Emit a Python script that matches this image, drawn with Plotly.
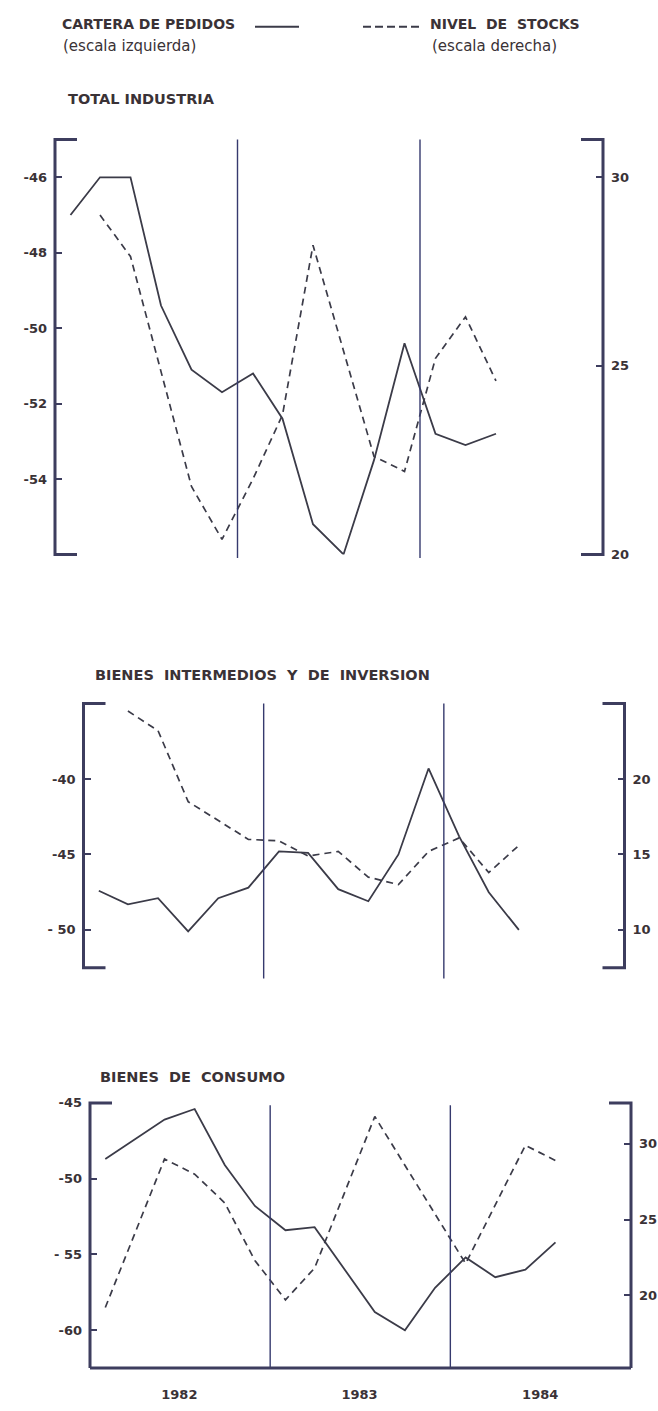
import plotly.graph_objects as go

W, H = 658, 1411

# ---------------- data (bimonthly survey points) ----------------
periods = ["1982-02-01", "1982-04-01", "1982-06-01", "1982-08-01", "1982-10-01", "1982-12-01",
           "1983-02-01", "1983-04-01", "1983-06-01", "1983-08-01", "1983-10-01", "1983-12-01",
           "1984-02-01", "1984-04-01", "1984-06-01", "1984-08-01"]
year_breaks = ["1983-01-01", "1984-01-01"]
year_ticks = ["1982-07-01", "1983-07-01", "1984-07-01"]
year_labels = ["1982", "1983", "1984"]

# TOTAL INDUSTRIA
total_pedidos = [-47.0, -46.0, -46.0, -49.4, -51.1, -51.7, -51.2, -52.4, -55.2, -56.0,
                 -53.5, -50.4, -52.8, -53.1, -52.8]
total_stocks = [None, 29.0, 27.9, None, 21.8, 20.4, 22.0, 23.7, 28.2, None,
                22.6, 22.2, 25.2, 26.3, 24.6]

# BIENES INTERMEDIOS Y DE INVERSION
inter_pedidos = [-47.4, -48.3, -47.9, -50.1, -47.9, -47.2, -44.8, -44.9, -47.3, -48.1,
                 -45.0, -39.3, -43.8, -47.5, -50.0]
inter_stocks = [None, 24.5, 23.2, 18.5, None, 16.0, 15.9, 14.9, 15.2, 13.5,
                13.0, 15.2, 16.1, 13.8, 15.6]

# BIENES DE CONSUMO
cons_pedidos = [-48.7, None, -46.1, -45.4, -49.1, -51.8, -53.4, -53.2, None, -58.8,
                -60.0, -57.2, -55.2, -56.5, -56.0, -54.2]
cons_stocks = [19.2, None, 29.0, 28.0, 26.1, 22.3, 19.7, 21.8, None, 31.8,
               None, None, 22.1, None, 29.9, 28.9]

# tick labels
p1_left_vals, p1_left_text = [-46, -48, -50, -52, -54], ["-46", "-48", "-50", "-52", "-54"]
p1_right_vals, p1_right_text = [30, 25, 20], ["30", "25", "20"]
p2_left_vals, p2_left_text = [-40, -45, -50], ["-40", "-45", "- 50"]
p2_right_vals, p2_right_text = [20, 15, 10], ["20", "15", "10"]
p3_left_vals, p3_left_text = [-45, -50, -55, -60], ["-45", "-50", "- 55", "-60"]
p3_right_vals, p3_right_text = [30, 25, 20], ["30", "25", "20"]

# ---------------- styling / layout ----------------
INK = "#3a3236"
LINE = "#3b3b48"
FRAME = "#3d3d5e"
VLINE = "#363a6e"
FONT = "DejaVu Sans"


def fx(p):
    return p / W


def fy(p):
    return 1 - p / H


panels = [
    dict(x0=55, x1=603, y0=134, y1=553.3, lrange=[-56, -45], rrange=[20, 31],
         lv=p1_left_vals, lt=p1_left_text, rv=p1_right_vals, rt=p1_right_text,
         ped=total_pedidos, sto=total_stocks, vtop=134, vbot=557, closed=False),
    dict(x0=83.5, x1=624.5, y0=704, y1=971, lrange=[-52.5, -35], rrange=[7.5, 25],
         lv=p2_left_vals, lt=p2_left_text, rv=p2_right_vals, rt=p2_right_text,
         ped=inter_pedidos, sto=inter_stocks, vtop=704, vbot=982, closed=False),
    dict(x0=90, x1=631, y0=1107.7, y1=1375.7, lrange=[-62.5, -45], rrange=[15.2, 32.7],
         lv=p3_left_vals, lt=p3_left_text, rv=p3_right_vals, rt=p3_right_text,
         ped=cons_pedidos, sto=cons_stocks, vtop=1110, vbot=1375.7, closed=True),
]

tickfont = dict(size=13, color=INK, family=FONT, weight="bold")

fig = go.Figure()
layout = dict(width=W, height=H, margin=dict(l=0, r=0, t=0, b=0),
              paper_bgcolor="white", plot_bgcolor="rgba(0,0,0,0)",
              showlegend=False, font=dict(family=FONT, color=INK, size=13))
shapes = []
annotations = []

for i, p in enumerate(panels):
    xa = "x" if i == 0 else f"x{i + 1}"
    yl = "y" if i == 0 else f"y{2 * i + 1}"
    yr = f"y{2 * i + 2}"
    xkey = "xaxis" if i == 0 else f"xaxis{i + 1}"
    ylkey = "yaxis" if i == 0 else f"yaxis{2 * i + 1}"
    yrkey = f"yaxis{2 * i + 2}"

    xaxis = dict(domain=[fx(p["x0"]), fx(p["x1"])], range=["1982-01-01", "1985-01-01"],
                 type="date", showgrid=False, zeroline=False, showline=False,
                 anchor=yl, ticks="", showticklabels=False, fixedrange=True)
    if p["closed"]:
        xaxis.update(showticklabels=True, tickmode="array", tickvals=year_ticks,
                     ticktext=year_labels, ticklabelstandoff=17, tickfont=tickfont)
    layout[xkey] = xaxis
    layout[ylkey] = dict(domain=[fy(p["y1"]), fy(p["y0"])], range=p["lrange"], anchor=xa,
                         showgrid=False, zeroline=False, showline=False,
                         tickmode="array", tickvals=p["lv"], ticktext=p["lt"],
                         ticks="inside", ticklen=7, tickwidth=2, tickcolor=FRAME,
                         ticklabelstandoff=7, tickfont=tickfont, fixedrange=True)
    layout[yrkey] = dict(range=p["rrange"], anchor=xa, overlaying=yl, side="right",
                         showgrid=False, zeroline=False, showline=False,
                         tickmode="array", tickvals=p["rv"], ticktext=p["rt"],
                         ticks="inside", ticklen=7, tickwidth=2, tickcolor=FRAME,
                         ticklabelstandoff=7, tickfont=tickfont, fixedrange=True)

    n_ped = len(p["ped"])
    n_sto = len(p["sto"])
    fig.add_trace(go.Scatter(x=periods[:n_ped], y=p["ped"], mode="lines", connectgaps=True,
                             line=dict(color=LINE, width=1.8), xaxis=xa, yaxis=yl,
                             hoverinfo="skip"))
    fig.add_trace(go.Scatter(x=periods[:n_sto], y=p["sto"], mode="lines", connectgaps=True,
                             line=dict(color=LINE, width=1.7, dash="7px,5px"),
                             xaxis=xa, yaxis=yr, hoverinfo="skip"))

    # year separators
    for d in year_breaks:
        shapes.append(dict(type="line", xref=xa, yref="paper", x0=d, x1=d,
                           y0=fy(p["vtop"]), y1=fy(p["vbot"]),
                           line=dict(color=VLINE, width=1.4)))

    # frame / brackets
    arm = 22
    fl = dict(color=FRAME, width=3)
    x0, x1, y0, y1 = p["x0"], p["x1"], p["y0"], p["y1"]
    shapes.append(dict(type="path", xref="paper", yref="paper",
                       path=f"M {fx(x0 + arm)},{fy(y0)} L {fx(x0)},{fy(y0)} L {fx(x0)},{fy(y1)}"
                       + ("" if p["closed"] else f" L {fx(x0 + arm)},{fy(y1)}"),
                       line=fl))
    shapes.append(dict(type="path", xref="paper", yref="paper",
                       path=f"M {fx(x1 - arm)},{fy(y0)} L {fx(x1)},{fy(y0)} L {fx(x1)},{fy(y1)}"
                       + ("" if p["closed"] else f" L {fx(x1 - arm)},{fy(y1)}"),
                       line=fl))
    if p["closed"]:
        shapes.append(dict(type="line", xref="paper", yref="paper",
                           x0=fx(x0), x1=fx(x1), y0=fy(y1), y1=fy(y1), line=fl))


def text(t, x, y, size=13, bold=False):
    annotations.append(dict(text=f"<b>{t}</b>" if bold else t, x=fx(x), y=fy(y),
                            xref="paper", yref="paper", xanchor="left", yanchor="middle",
                            showarrow=False, font=dict(size=size, color=INK, family=FONT)))


NB = "\u00a0"
# header / legend
text("CARTERA DE PEDIDOS", 60, 17, 14, True)
text("(escala izquierda)", 61, 39, 15)
text(f"NIVEL {NB}DE {NB}STOCKS", 428, 17, 14, True)
text("(escala derecha)", 430, 39, 15)
shapes.append(dict(type="line", xref="paper", yref="paper", x0=fx(255), x1=fx(299),
                   y0=fy(20), y1=fy(20), line=dict(color=LINE, width=2)))
shapes.append(dict(type="line", xref="paper", yref="paper", x0=fx(363), x1=fx(423),
                   y0=fy(20), y1=fy(20), line=dict(color=LINE, width=2, dash="8px,4px")))

# panel titles
text("TOTAL INDUSTRIA", 66, 93, 14.5, True)
text(f"BIENES {NB}INTERMEDIOS {NB}Y {NB}DE {NB}INVERSION", 93, 675, 14.5, True)
text(f"BIENES {NB}DE {NB}CONSUMO", 98, 1081, 14.5, True)

layout["shapes"] = shapes
layout["annotations"] = annotations
fig.update_layout(**layout)
fig.write_html("out.html", config={"displayModeBar": False, "staticPlot": True},
               post_script="document.body.style.margin='0px';document.body.style.overflow='hidden';")
